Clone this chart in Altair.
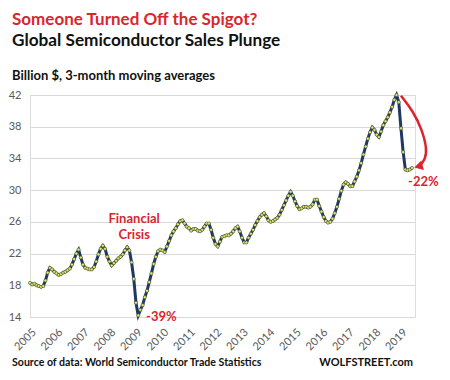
import altair as alt
import pandas as pd

# Monthly 3-month moving averages, billion $ (Jan 2005 .. Jun 2019)
v2005 = [18.3, 18.1, 18.2, 18.0, 17.9, 17.8, 17.9, 18.6, 19.6, 20.2, 20.0, 19.7]
v2006 = [19.5, 19.3, 19.4, 19.6, 19.7, 19.9, 20.1, 20.6, 21.3, 22.0, 22.5, 21.5]
v2007 = [20.6, 20.2, 20.1, 20.0, 20.0, 20.3, 21.0, 21.9, 22.6, 23.0, 22.6, 21.6]
v2008 = [21.0, 20.5, 20.8, 21.1, 21.4, 21.6, 21.9, 22.4, 22.8, 22.4, 20.9, 18.8]
v2009 = [15.8, 14.2, 14.9, 15.5, 16.5, 17.3, 18.4, 19.5, 20.7, 21.6, 22.3, 22.5]
v2010 = [22.4, 22.2, 22.9, 23.6, 24.3, 24.8, 25.2, 25.7, 26.1, 26.2, 25.8, 25.4]
v2011 = [25.2, 24.9, 25.1, 25.1, 24.9, 24.8, 25.0, 25.4, 25.8, 25.8, 25.0, 24.0]
v2012 = [23.2, 22.9, 23.5, 24.1, 24.2, 24.3, 24.3, 24.5, 24.8, 25.2, 25.4, 24.8]
v2013 = [24.0, 23.4, 23.4, 24.0, 24.5, 25.0, 25.6, 26.1, 26.6, 26.9, 27.1, 26.7]
v2014 = [26.2, 26.0, 26.1, 26.3, 26.5, 26.9, 27.5, 28.1, 28.7, 29.3, 29.8, 29.3]
v2015 = [28.6, 28.0, 27.6, 27.7, 27.9, 27.9, 27.8, 27.9, 28.2, 28.8, 28.8, 28.0]
v2016 = [27.3, 26.6, 26.1, 25.9, 26.0, 26.4, 27.1, 27.9, 28.9, 29.9, 30.7, 31.0]
v2017 = [30.8, 30.5, 30.5, 31.1, 31.7, 32.5, 33.4, 34.5, 35.5, 36.5, 37.3, 37.9]
v2018 = [37.6, 37.0, 36.7, 37.4, 38.2, 38.7, 39.2, 39.8, 40.5, 41.4, 42.0, 41.1]
v2019 = [37.8, 34.8, 32.6, 32.5, 32.6, 32.8]

values = v2005 + v2006 + v2007 + v2008 + v2009 + v2010 + v2011 + v2012 + \
    v2013 + v2014 + v2015 + v2016 + v2017 + v2018 + v2019
months = [2005 + i / 12 for i in range(len(values))]
df = pd.DataFrame({"t": months, "v": values})

year_ticks = list(range(2005, 2020))
y_ticks = [14, 18, 22, 26, 30, 34, 38, 42]

# annotations (data coordinates)
ann_text = ["Financial", "Crisis", "-39%", "-22%"]
ann_t = [2008.93, 2008.93, 2009.38, 2019.27]
ann_v = [26.3, 24.3, 14.0, 31.0]
ann_align = ["center", "center", "left", "left"]

arrow_t = [2019.00, 2019.45, 2019.80, 2019.98, 2019.92, 2019.72]
arrow_v = [41.9, 40.0, 37.6, 35.2, 33.9, 33.1]
arrow_order = list(range(len(arrow_t)))

RED = "#d9262e"
NAVY = "#1f3864"
GREY = "#595959"
FONT = "Lato"

xs = alt.Scale(domain=[2005, 2019.53], nice=False, zero=False)
ys = alt.Scale(domain=[14, 42], nice=False, zero=False)

base = alt.Chart(df)

line = base.mark_line(color=NAVY, strokeWidth=3).encode(
    x=alt.X("t:Q", scale=xs, axis=alt.Axis(
        values=year_ticks, tickCount=len(year_ticks), format="d", labelAngle=-45,
        labelAlign="right", labelBaseline="top", labelPadding=9, grid=False,
        ticks=False, labelOverlap=False, labelFlush=False, labelBound=False,
        domain=False, labelColor=GREY, labelFontSize=11, labelFont=FONT, title=None)),
    y=alt.Y("v:Q", scale=ys, axis=alt.Axis(
        values=y_ticks, tickCount=len(y_ticks), grid=True, gridColor="#d9d9d9",
        gridWidth=1.2, ticks=False, labelOverlap=False, labelFlush=False,
        labelBound=False, domain=False, labelColor=GREY, labelFontSize=11,
        labelFont=FONT, labelPadding=9, title=None)),
)

points = base.mark_point(filled=True, size=10, color="#dce775", stroke="#4b5320",
                         strokeWidth=0.6, opacity=1).encode(
    x=alt.X("t:Q", scale=xs), y=alt.Y("v:Q", scale=ys))

ann_df = pd.DataFrame({"t": ann_t, "v": ann_v, "text": ann_text, "align": ann_align})
ann_c = alt.Chart(ann_df[ann_df["align"] == "center"]).mark_text(
    color=RED, fontSize=13, fontWeight="bold", font=FONT, align="center",
    baseline="middle").encode(x=alt.X("t:Q", scale=xs), y=alt.Y("v:Q", scale=ys),
                              text="text:N")
ann_l = alt.Chart(ann_df[ann_df["align"] == "left"]).mark_text(
    color=RED, fontSize=13, fontWeight="bold", font=FONT, align="left",
    baseline="middle").encode(x=alt.X("t:Q", scale=xs), y=alt.Y("v:Q", scale=ys),
                              text="text:N")

arrow_df = pd.DataFrame({"t": arrow_t, "v": arrow_v, "o": arrow_order})
arrow = alt.Chart(arrow_df).mark_line(color=RED, strokeWidth=2.5,
                                      interpolate="basis").encode(
    x=alt.X("t:Q", scale=xs), y=alt.Y("v:Q", scale=ys), order="o:Q")
head = alt.Chart(pd.DataFrame({"t": [2019.66], "v": [33.0]})).mark_point(
    shape="triangle-left", filled=True, color=RED, size=100, opacity=1,
    angle=345).encode(x=alt.X("t:Q", scale=xs), y=alt.Y("v:Q", scale=ys))

hdr = pd.DataFrame({"k": [0]})
def txt(s, x, y, size, color="#000000", weight="bold", align="left"):
    return alt.Chart(hdr).mark_text(text=s, fontSize=size, fontWeight=weight,
                                    color=color, font=FONT, align=align,
                                    baseline="alphabetic").encode(
        x=alt.value(x), y=alt.value(y))

title1 = txt("Someone Turned Off the Spigot?", -18, -70, 17, RED)
title2 = txt("Global Semiconductor Sales Plunge", -18, -49, 17.2, "#111111")
sub = txt("Billion $, 3-month moving averages", -18, -15, 13, "#111111")
src = txt("Source of data: World Semiconductor Trade Statistics", -18, 271, 10.6, "#111111")
wolf = txt("WOLFSTREET.com", 383, 271, 11, "#111111", align="right")

chart = alt.layer(line, points, arrow, head, ann_c, ann_l,
                  title1, title2, sub, src, wolf).properties(
    width=385, height=222,
    autosize=alt.AutoSizeParams(type="none"),
    padding={"left": 22, "top": 87, "right": 27, "bottom": 55},
).configure_view(stroke=None).configure(background="#ffffff")

chart.save("out.html", embed_options={"renderer": "svg", "actions": False})
